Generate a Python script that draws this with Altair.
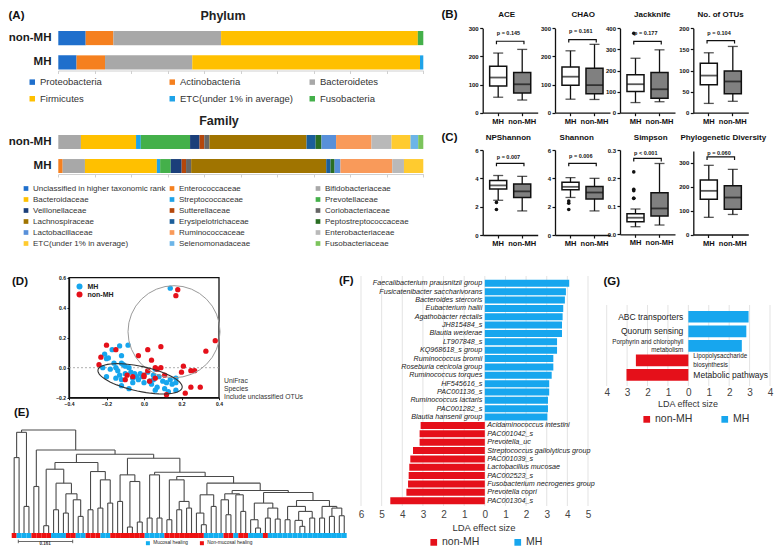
import altair as alt
import pandas as pd
import numpy as np

W, H = 766, 538
FONT = "Liberation Sans"
DUMMY = pd.DataFrame({"a": [0]})
BLUE = "#17A6EE"
RED = "#E5101A"


def X(v):
    return v - 8


def Y(v):
    return v - 8


def txt(s, x, y, size=8.0, weight="normal", align="center", color="#222222", style="normal", baseline="middle"):
    return alt.Chart(DUMMY).mark_text(
        text=s, fontSize=size, fontWeight=weight, align=align, baseline=baseline,
        color=color, fontStyle=style, font=FONT
    ).encode(x=alt.value(X(x)), y=alt.value(Y(y)))


# ------------------------------------------------------------------ (A) data
groups_A = ["non-MH", "MH"]
phyla = ["Proteobacteria", "Actinobacteria", "Bacteroidetes", "Firmicutes",
         "ETC(under 1% in average)", "Fusobacteria"]
phylum_colors = ["#1F6FCC", "#F5801F", "#A8A8A8", "#FFC000", "#1FA3E8", "#44B04A"]
phylum_non_mh = [7.5, 7.6, 29.5, 53.9, 0.0, 1.5]
phylum_mh = [5.0, 7.8, 23.9, 62.4, 0.9, 0.0]

families = ["Unclassified in higher taxonomic rank", "Enterococcaceae", "Bifidobacteriaceae",
            "Bacteroidaceae", "Streptococcaceae", "Prevotellaceae",
            "Veillonellaceae", "Sutterellaceae", "Coriobacteriaceae",
            "Lachnospiraceae", "Erysipelotrichaceae", "Peptostreptococcaceae",
            "Lactobacillaceae", "Ruminococcaceae", "Enterobacteriaceae",
            "ETC(under 1% in average)", "Selenomonadaceae", "Fusobacteriaceae"]
family_colors = ["#1F6FCC", "#F5801F", "#A8A8A8", "#FFC000", "#1FA3E8", "#44B04A",
                 "#1B3F7A", "#B5470B", "#666666", "#A07400", "#1B5E9A", "#2A6E23",
                 "#5890DA", "#F99A5A", "#B9B9B9", "#FFCB2F", "#6CB5E8", "#7CC45C"]
family_non_mh = [0.0, 0.0, 6.2, 15.1, 1.3, 13.5, 2.6, 1.3, 1.4, 26.6, 2.5, 1.6, 4.0, 9.7, 5.5, 5.2, 2.1, 1.4]
family_mh = [0.0, 1.2, 6.1, 19.7, 0.9, 2.9, 3.0, 1.2, 1.4, 37.0, 1.2, 1.1, 1.6, 14.2, 3.2, 5.3, 0.0, 0.0]

# ------------------------------------------------------------------ (B)(C) data
box_names = ["ACE", "CHAO", "Jackknife", "No. of OTUs",
             "NPShannon", "Shannon", "Simpson", "Phylogenetic Diversity"]
box_min_mh = [55, 48, 48, 22, 2.45, 2.65, 0.027, 72]
box_q1_mh = [95, 98, 100, 66, 3.25, 3.2, 0.045, 148]
box_med_mh = [125, 128, 135, 88, 3.5, 3.4, 0.059, 183]
box_q3_mh = [165, 162, 180, 117, 3.85, 3.72, 0.073, 228]
box_max_mh = [212, 220, 258, 142, 4.2, 4.05, 0.09, 290]
box_min_non = [45, 47, 52, 27, 1.7, 1.7, 0.033, 84]
box_q1_non = [70, 67, 68, 45, 2.65, 2.55, 0.065, 106]
box_med_non = [101, 98, 111, 74, 3.08, 3.0, 0.092, 155]
box_q3_non = [143, 158, 190, 99, 3.6, 3.42, 0.148, 204]
box_max_non = [225, 243, 298, 157, 4.14, 4.0, 0.252, 273]
p_labels = ["p = 0.145", "p = 0.161", "p = 0.177", "p = 0.104",
            "p = 0.007", "p = 0.006", "p < 0.001", "p = 0.060"]
bracket_at = [254, 260, 338, 171, 5.06, 5.06, 0.27, 325]
ptext_at = [283, 290, 377, 189, 5.5, 5.55, 0.29, 343]
outlier_metric = ["Jackknife", "NPShannon", "NPShannon", "Shannon", "Shannon", "Shannon",
                  "Simpson", "Simpson", "Simpson", "Simpson", "Simpson"]
outlier_value = [376, 2.3, 1.8, 2.4, 2.25, 1.8, 0.222, 0.16, 0.155, 0.128, 0.128]
outlier_side = [0, 0, 0, -1, 1, 0, 0, -1, 1, -1, 1]
box_domain_max = [300, 300, 400, 200, 6, 6, 0.3, 350]
box_ticks = [[0, 100, 200, 300], [0, 100, 200, 300], [0, 100, 200, 300, 400], [0, 50, 100, 150, 200],
             [0, 2, 4, 6], [0, 2, 4, 6], [0, 0.1, 0.2, 0.3], [0, 100, 200, 300]]
box_formats = ["d", "d", "d", "d", "d", "d", ".1f", "d"]

# ------------------------------------------------------------------ (D) data
mh_x = [0.14, -0.085, -0.13, -0.17, -0.21, -0.2, -0.19, -0.12, -0.16, -0.12, -0.11, -0.10, -0.22,
        -0.18, -0.15, -0.14, -0.2, -0.15, -0.13, -0.12, -0.1, -0.08, -0.07, -0.05, -0.06, -0.04,
        -0.03, -0.02, -0.01, 0.0, -0.06, -0.12, -0.08, 0.02, 0.03, 0.05, 0.04, 0.06, 0.08, 0.1,
        0.12, 0.11, 0.14, 0.15, 0.17, 0.17, 0.17, 0.13, 0.07, 0.05, 0.06]
mh_y = [0.53, 0.15, 0.145, 0.12, 0.09, 0.06, 0.065, 0.08, 0.03, 0.03, 0.02, 0.01, 0.0, -0.01, 0.0,
        -0.02, -0.06, -0.07, -0.05, -0.08, -0.04, 0.0, -0.03, -0.04, -0.07, -0.06, -0.08, -0.04,
        -0.06, -0.1, -0.1, -0.12, -0.14, -0.03, -0.09, -0.08, -0.11, -0.15, -0.06, -0.09, -0.1,
        -0.14, -0.08, -0.11, -0.07, -0.1, -0.15, -0.16, -0.13, -0.05, -0.01]
non_x = [0.18, 0.17, 0.38, 0.33, -0.23, -0.2, -0.15, -0.24, 0.02, 0.09, -0.03, 0.04, 0.06, 0.07,
         0.09, 0.21, 0.2, 0.25, 0.27, 0.11, -0.09, -0.06, -0.1, 0.0, 0.03, 0.06, 0.25, 0.3, 0.22,
         0.12, 0.02, 0.0]
non_y = [0.52, 0.48, 0.18, 0.11, 0.07, 0.15, 0.12, 0.02, 0.12, 0.14, 0.08, 0.05, 0.0, -0.01, 0.0,
         0.01, -0.03, -0.02, -0.02, -0.05, -0.05, -0.06, -0.08, -0.06, -0.09, -0.07, -0.13, -0.13,
         -0.17, -0.18, -0.02, -0.05]

# ------------------------------------------------------------------ (E) data (merge heights)
L = "L"
t_a = (303, (227, L, L), (80, L, L))
t_b1 = (140, L, L)
t_z1 = (192, (22, L, L), (150, (70, L, L), (118, (60, L, L), (100, L, (50, L, L)))))
t_z2 = (185, (70, L, L), (160, (75, L, L), (90, L, L)))
t_z = (212, t_z1, t_z2)
t_w1 = (175, (95, L, L), (155, (18, L, L), (33, L, L)))
t_w2a = (175, (45, L, L), (45, L, L))
t_w2b1 = (160, (40, L, L), (95, (70, L, L), (75, L, L)))
t_w2b2a = (115, (60, L, (25, L, L)), (80, L, L))
t_w3 = (118, (100, L, (55, L, L)), (115, L, (65, L, L)))
t_w4a = (90, (40, L, (15, L, L)), (75, (45, L, L), (42, L, L)))
t_w4b1 = (80, (40, L, L), (65, (38, L, (20, L, L)), (45, L, L)))
t_w4b2 = (80, (45, L, L), (75, (50, L, L), (52, L, L)))
t_w4 = (122, t_w4a, (98, t_w4b1, t_w4b2))
t_w2b2 = (150, t_w2b2a, (128, t_w3, t_w4))
t_w2 = (183, t_w2a, (170, t_w2b1, t_w2b2))
t_w = (225, t_w1, t_w2)
tree = (310, t_a, (250, t_b1, (237, t_z, t_w)))
strip_runs = [("Non-mucosal healing", 1), ("Mucosal healing", 3), ("Non-mucosal healing", 4),
              ("Mucosal healing", 3), ("Non-mucosal healing", 2), ("Mucosal healing", 2),
              ("Non-mucosal healing", 3), ("Mucosal healing", 2), ("Non-mucosal healing", 7),
              ("Mucosal healing", 4), ("Non-mucosal healing", 8), ("Mucosal healing", 4),
              ("Non-mucosal healing", 2), ("Mucosal healing", 1), ("Non-mucosal healing", 2),
              ("Mucosal healing", 3), ("Non-mucosal healing", 1), ("Mucosal healing", 16)]

# ------------------------------------------------------------------ (F) data
f_taxa = ["Faecalibacterium prausnitzii group", "Fusicatenibacter saccharivorans",
          "Bacteroides stercoris", "Eubacterium hallii", "Agathobacter rectalis", "JH815484_s",
          "Blautia wexlerae", "LT907848_s", "KQ968618_s group", "Ruminococcus bromii",
          "Roseburia cecicola group", "Ruminococcus torques", "HF545616_s", "PAC001136_s",
          "Ruminococcus lactaris", "PAC001282_s", "Blautia hansenii group",
          "Acidaminococcus intestini", "PAC001042_s", "Prevotella_uc",
          "Streptococcus gallolyticus group", "PAC001039_s", "Lactobacillus mucosae",
          "PAC002523_s", "Fusobacterium necrogenes group", "Prevotella copri", "PAC001304_s"]
f_lda = [4.09, 3.93, 3.88, 3.80, 3.77, 3.74, 3.74, 3.50, 3.50, 3.32, 3.32, 3.24, 3.12, 3.12,
         3.06, 3.06, 3.03, -3.11, -3.16, -3.16, -3.48, -3.61, -3.66, -3.69, -3.72, -3.80, -4.58]

# ------------------------------------------------------------------ (G) data
g_path = ["ABC transporters", "Quorum sensing", "Porphyrin and chlorophyll\nmetabolism",
          "Lipopolysaccharide\nbiosynthesis", "Metabolic pathways"]
g_lda = [2.95, 2.84, 2.62, -2.57, -3.03]

layers = []

# ================================================================== (A)
def stacked_panel(cats, colors, v_non, v_mh, y_top, y_bot, legend_kw):
    rows = []
    for g, vals in (("non-MH", v_non), ("MH", v_mh)):
        for k, (c, v) in enumerate(zip(cats, vals)):
            rows.append({"group": g, "taxon": c, "value": v, "idx": k})
    df = pd.DataFrame(rows)
    return alt.Chart(df).mark_bar().encode(
        y=alt.Y("group:N",
                scale=alt.Scale(domain=groups_A, range=[Y(y_top), Y(y_bot)], paddingInner=0.42, paddingOuter=0),
                axis=alt.Axis(orient="left", offset=-X(57), title=None, domain=False, ticks=False,
                              labelFontSize=11.5, labelFontWeight="bold", labelPadding=6,
                              labelColor="#1a1a1a", labelFont=FONT)),
        x=alt.X("value:Q", stack="zero",
                scale=alt.Scale(domain=[0, 100], range=[X(58.3), X(423.3)], nice=False, zero=True),
                axis=alt.Axis(orient="bottom", offset=Y(y_bot + 1) - H, values=list(range(0, 101, 10)),
                              labels=False, title=None, grid=False, domainColor="#d0d0d0",
                              tickColor="#d0d0d0", tickSize=3)),
        color=alt.Color("taxon:N", scale=alt.Scale(domain=cats, range=colors), legend=alt.Legend(**legend_kw)),
        order=alt.Order("idx:Q", sort="ascending"),
    )


layers.append(stacked_panel(
    phyla, phylum_colors, phylum_non_mh, phylum_mh, 31, 69.5,
    dict(orient="none", legendX=X(27.5), legendY=Y(77), columns=3, direction="horizontal", gridAlign="all",
         symbolType="square", symbolSize=30, symbolStrokeWidth=0, labelFontSize=9.5,
         labelFont=FONT, labelColor="#333333", columnPadding=14, rowPadding=6, title=None,
         labelOffset=3, labelLimit=400)))
layers.append(stacked_panel(
    families, family_colors, family_non_mh, family_mh, 135, 173,
    dict(orient="none", legendX=X(22), legendY=Y(184.5), columns=3, direction="horizontal", gridAlign="all",
         symbolType="square", symbolSize=22, symbolStrokeWidth=0, labelFontSize=8,
         labelFont=FONT, labelColor="#333333", columnPadding=2, rowPadding=3, title=None,
         labelOffset=3, labelLimit=400)))
layers.append(txt("Phylum", 223, 16, 12.5, "bold"))
layers.append(txt("Family", 219, 121, 12.5, "bold"))

# ================================================================== (B)(C)
box_cols = [482.7, 555.0, 620.0, 693.3, 482.7, 555.0, 620.0, 693.3]
box_top_px = [28.3, 28.3, 28.3, 28.3, 150, 150, 150, 151]
box_bot_px = [112.7, 112.7, 112.7, 112.7, 235, 235, 234.3, 234.5]
box_title_x = [506.7, 583.3, 652.3, 720.7, 508.3, 576.7, 650.7, 723.3]


def box_panel(i):
    x0, yb, yt, top = box_cols[i], box_bot_px[i], box_top_px[i], box_domain_max[i]
    xs = alt.Scale(domain=["MH", "non-MH"], range=[X(x0), X(x0 + 55)], paddingInner=0.29, paddingOuter=0.29)
    ys = alt.Scale(domain=[0, top], range=[Y(yb), Y(yt)], nice=False, zero=False)
    df = pd.DataFrame({
        "group": ["MH", "non-MH"],
        "lo": [box_min_mh[i], box_min_non[i]],
        "q1": [box_q1_mh[i], box_q1_non[i]],
        "med": [box_med_mh[i], box_med_non[i]],
        "q3": [box_q3_mh[i], box_q3_non[i]],
        "hi": [box_max_mh[i], box_max_non[i]],
        "fill": ["white", "#808080"],
    })
    base = alt.Chart(df)
    xax = alt.Axis(orient="bottom", offset=Y(yb) - H, title=None, labelAngle=0, labelFontSize=7.5,
                   labelFontWeight="bold", labelColor="#111111", domainColor="#111111", domainWidth=1.3,
                   tickColor="#111111", tickWidth=1.2, tickSize=3, labelPadding=1.5, labelFont=FONT)
    yax = alt.Axis(orient="left", offset=-X(x0), title=None, values=box_ticks[i], format=box_formats[i],
                   labelFontSize=6, labelFontWeight="bold", labelColor="#111111", domainColor="#111111",
                   domainWidth=1.3, tickColor="#111111", tickWidth=1.2, tickSize=3, labelPadding=1.5,
                   grid=False, labelFlush=False, labelOverlap=False, labelFont=FONT)

    def xe(ax=None):
        return alt.X("group:N", scale=xs, axis=ax)

    def ye(f, ax=None):
        return alt.Y(f, scale=ys, axis=ax)

    parts = [
        base.mark_rule(color="#111111", strokeWidth=1.3).encode(x=xe(xax), y=ye("lo:Q", yax), y2="hi:Q"),
        base.mark_bar(stroke="#111111", strokeWidth=1.5).encode(
            x=xe(), y=ye("q1:Q"), y2="q3:Q", fill=alt.Fill("fill:N", scale=None)),
        base.mark_tick(color="#111111", thickness=1.8, size=17).encode(x=xe(), y=ye("med:Q")),
        base.mark_tick(color="#111111", thickness=1.3, size=10).encode(x=xe(), y=ye("lo:Q")),
        base.mark_tick(color="#111111", thickness=1.3, size=10).encode(x=xe(), y=ye("hi:Q")),
    ]
    d = 3.0 * top / (yb - yt)
    b = bracket_at[i]
    br = pd.DataFrame({"group": ["MH", "MH", "non-MH", "non-MH"], "v": [b - d, b, b, b - d], "k": [0, 1, 2, 3]})
    parts.append(alt.Chart(br).mark_line(color="#111111", strokeWidth=1.2).encode(
        x=xe(), y=ye("v:Q"), order="k:Q"))
    parts.append(alt.Chart(pd.DataFrame({"group": ["MH"], "v": [ptext_at[i]]})).mark_text(
        text=p_labels[i], dx=12, fontSize=5.5, fontWeight="bold", color="#111111", font=FONT).encode(
        x=xe(), y=ye("v:Q")))
    out = [(v, s) for m, v, s in zip(outlier_metric, outlier_value, outlier_side) if m == box_names[i]]
    for side in sorted(set(s for _, s in out)):
        vals = [v for v, s in out if s == side]
        odf = pd.DataFrame({"group": ["MH"] * len(vals), "v": vals})
        parts.append(alt.Chart(odf).mark_circle(size=13, color="#111111", opacity=1, dx=side * 3.5).encode(
            x=xe(), y=ye("v:Q")))
    return parts


for i in range(8):
    layers.extend(box_panel(i))
    layers.append(txt(box_names[i], box_title_x[i], 15 if i < 4 else 138, 8, "bold", color="#111111"))

# ================================================================== (D)
df_pts = pd.DataFrame({"x": mh_x + non_x, "y": mh_y + non_y,
                       "group": ["MH"] * len(mh_x) + ["non-MH"] * len(non_x)})
xs_d = alt.Scale(domain=[-0.4, 0.4], range=[X(69), X(219)], nice=False, zero=False)
ys_d = alt.Scale(domain=[-0.2, 0.6], range=[Y(397.7), Y(277.7)], nice=False, zero=False)
ax_common = dict(title=None, labelFontSize=5, labelFontWeight="bold", labelColor="#111111",
                 domainColor="#111111", domainWidth=1.3, tickColor="#111111", tickSize=2,
                 labelPadding=1.5, grid=False, labelFlush=False, labelOverlap=False, format=".1f",
                 labelFont=FONT)
frame = alt.Chart(pd.DataFrame({"x": [-0.4], "x2": [0.4], "y": [-0.2], "y2": [0.6]})).mark_rect(
    fillOpacity=0, stroke="#111111", strokeWidth=1.3).encode(
    x=alt.X("x:Q", scale=xs_d, axis=alt.Axis(orient="bottom", offset=Y(397.7) - H,
                                              values=[-0.4, -0.2, 0.0, 0.2, 0.4], **ax_common)),
    x2="x2:Q",
    y=alt.Y("y:Q", scale=ys_d, axis=alt.Axis(orient="left", offset=-X(69),
                                             values=[-0.2, 0.0, 0.2, 0.4, 0.6], **ax_common)),
    y2="y2:Q")
zero_line = alt.Chart(pd.DataFrame({"x": [-0.4], "x2": [0.4], "y": [0.0]})).mark_rule(
    color="#999999", strokeDash=[2, 2], strokeWidth=0.8).encode(
    x=alt.X("x:Q", scale=xs_d, axis=None), x2="x2:Q", y=alt.Y("y:Q", scale=ys_d, axis=None))
pts = alt.Chart(df_pts).mark_circle(size=28, opacity=1).encode(
    x=alt.X("x:Q", scale=xs_d, axis=None), y=alt.Y("y:Q", scale=ys_d, axis=None),
    color=alt.Color("group:N", scale=alt.Scale(domain=["MH", "non-MH"], range=[BLUE, RED]),
                    legend=alt.Legend(orient="none", legendX=X(75.5), legendY=Y(282.5), title=None,
                                      symbolType="circle", symbolSize=36, labelFontSize=7,
                                      labelFontWeight="bold", labelColor="#222222", rowPadding=1,
                                      labelOffset=4, labelFont=FONT)))
circ = alt.Chart(pd.DataFrame({"x": [0.16], "y": [0.24]})).mark_point(
    shape="circle", size=8464, filled=False, stroke="#9a9a9a", strokeWidth=1, opacity=1).encode(
    x=alt.X("x:Q", scale=xs_d, axis=None), y=alt.Y("y:Q", scale=ys_d, axis=None))
theta = np.linspace(0, 2 * np.pi, 61)[:-1]
ell_path = "M" + " L".join(f"{np.cos(a):.3f},{0.29 * np.sin(a):.3f}" for a in theta) + " Z"
ell = alt.Chart(pd.DataFrame({"x": [-0.021], "y": [-0.074]})).mark_point(
    shape=ell_path, size=7396, filled=False, stroke="#333333", strokeWidth=1.1, opacity=1, angle=12).encode(
    x=alt.X("x:Q", scale=xs_d, axis=None), y=alt.Y("y:Q", scale=ys_d, axis=None))
layers.extend([frame, zero_line, pts, circ, ell])
layers.append(txt("UniFrac", 224, 381, 6.8, align="left", color="#333333"))
layers.append(txt("Species", 224, 389, 6.8, align="left", color="#333333"))
layers.append(txt("Include unclassified OTUs", 224, 397, 6.8, align="left", color="#333333"))

# ================================================================== (E)
segs = []
counter = [0]


def build(node):
    if node == L:
        i = counter[0]
        counter[0] += 1
        return float(i), 0.0
    h, a, b = node
    xa, ha = build(a)
    xb, hb = build(b)
    segs.append({"x": xa, "x2": xb, "y": h, "y2": h})
    segs.append({"x": xa, "x2": xa, "y": ha, "y2": h})
    segs.append({"x": xb, "x2": xb, "y": hb, "y2": h})
    return (xa + xb) / 2.0, float(h)


build(tree)
n_leaves = counter[0]
leaf_groups = []
for g, n in strip_runs:
    leaf_groups += [g] * n
leaf_groups = (leaf_groups + ["Mucosal healing"] * n_leaves)[:n_leaves]
df_seg = pd.DataFrame(segs)
df_strip = pd.DataFrame({"xa": np.arange(n_leaves) - 0.5, "xb": np.arange(n_leaves) + 0.5,
                         "ya": -15.0, "yb": 0.0, "grp": leaf_groups})
xs_e = alt.Scale(domain=[-0.5, n_leaves - 0.5], range=[X(11.7), X(346.7)], nice=False, zero=False)
ys_e = alt.Scale(domain=[-40, 310], range=[Y(546.3), Y(430)], nice=False, zero=False)
dendro = alt.Chart(df_seg).mark_rule(color="#4a4a4a", strokeWidth=1.1).encode(
    x=alt.X("x:Q", scale=xs_e, axis=None), x2="x2:Q", y=alt.Y("y:Q", scale=ys_e, axis=None), y2="y2:Q")
strip = alt.Chart(df_strip).mark_rect().encode(
    x=alt.X("xa:Q", scale=xs_e, axis=None), x2="xb:Q", y=alt.Y("ya:Q", scale=ys_e, axis=None), y2="yb:Q",
    color=alt.Color("grp:N", scale=alt.Scale(domain=["Mucosal healing", "Non-mucosal healing"],
                                             range=["#12AEF0", "#EE1111"]),
                    legend=alt.Legend(orient="none", legendX=X(145.5), legendY=Y(540.5), direction="horizontal",
                                      title=None, symbolType="square", symbolSize=16, labelFontSize=4.8,
                                      columnPadding=11, labelOffset=3, labelColor="#222222", labelFont=FONT,
                                      symbolStrokeWidth=0)))
layers.extend([dendro, strip])
layers.append(alt.Chart(DUMMY).mark_rule(color="#444444", strokeWidth=0.8).encode(
    x=alt.value(X(18.3)), x2=alt.value(X(72.7)), y=alt.value(Y(541.5))))
layers.append(alt.Chart(DUMMY).mark_rule(color="#444444", strokeWidth=0.8).encode(
    x=alt.value(X(18.3)), y=alt.value(Y(539.7)), y2=alt.value(Y(543.2))))
layers.append(alt.Chart(DUMMY).mark_rule(color="#444444", strokeWidth=0.8).encode(
    x=alt.value(X(72.7)), y=alt.value(Y(539.7)), y2=alt.value(Y(543.2))))
layers.append(txt("0.161", 45, 546, 4.5, "bold", color="#333333", baseline="bottom"))

# ================================================================== (F)
f_df = pd.DataFrame({"taxon": f_taxa, "lda": f_lda})
f_df["grp"] = np.where(f_df["lda"] > 0, "MH", "non-MH")
f_df["zero"] = 0.0
xs_f = alt.Scale(domain=[-6, 5], range=[X(361), X(588)], nice=False, zero=False)
ys_f = alt.Scale(domain=f_taxa, range=[Y(279), Y(505)], paddingInner=0.16, paddingOuter=0.095)
grid_f = alt.Chart(pd.DataFrame({"g": list(range(-6, 6))})).mark_rule(color="#dcdcdc", strokeWidth=0.8).encode(
    x=alt.X("g:Q", scale=xs_f, axis=alt.Axis(orient="bottom", offset=Y(507) - H, values=list(range(-6, 6)),
                                             labelExpr="abs(datum.value)", domain=False, ticks=False,
                                             labelFontSize=10, labelColor="#444444", labelPadding=2,
                                             title=None, grid=False, labelFlush=False, labelOverlap=False,
                                             labelFont=FONT)),
    y=alt.value(Y(276)), y2=alt.value(Y(506)))
bars_f = alt.Chart(f_df).mark_bar().encode(
    y=alt.Y("taxon:N", scale=ys_f, axis=None, sort=None),
    x=alt.X("lda:Q", scale=xs_f, axis=None), x2="zero:Q",
    color=alt.Color("grp:N", scale=alt.Scale(domain=["non-MH", "MH"], range=[RED, BLUE]),
                    legend=alt.Legend(orient="none", legendX=X(428.5), legendY=Y(537), direction="horizontal",
                                      title=None, symbolType="square", symbolSize=45, labelFontSize=10.5,
                                      columnPadding=33, labelOffset=3, labelColor="#333333", labelFont=FONT,
                                      symbolStrokeWidth=0)))
lab_mh = alt.Chart(f_df).transform_filter(alt.datum.lda > 0).mark_text(
    align="right", dx=-2.5, fontSize=7.2, fontStyle="italic", color="#222222", font=FONT).encode(
    y=alt.Y("taxon:N", scale=ys_f, axis=None, sort=None), x=alt.X("zero:Q", scale=xs_f, axis=None), text="taxon:N")
lab_non = alt.Chart(f_df).transform_filter(alt.datum.lda < 0).mark_text(
    align="left", dx=2.5, fontSize=7.2, fontStyle="italic", color="#222222", font=FONT).encode(
    y=alt.Y("taxon:N", scale=ys_f, axis=None, sort=None), x=alt.X("zero:Q", scale=xs_f, axis=None), text="taxon:N")
layers.extend([grid_f, bars_f, lab_mh, lab_non])
layers.append(txt("LDA effect size", 484, 528, 9.5, color="#333333"))

# ================================================================== (G)
g_df = pd.DataFrame({"path": g_path, "lda": g_lda})
g_df["grp"] = np.where(g_df["lda"] > 0, "MH", "non-MH")
g_df["zero"] = 0.0
g_df["lines"] = g_df["path"].str.count("\n") + 1
xs_g = alt.Scale(domain=[-4, 4], range=[X(606.7), X(770)], nice=False, zero=False)
ys_g = alt.Scale(domain=g_path, range=[Y(309.5), Y(382.2)], paddingInner=0.2, paddingOuter=0.1)
grid_g = alt.Chart(pd.DataFrame({"g": list(range(-4, 5))})).mark_rule(color="#dcdcdc", strokeWidth=0.8).encode(
    x=alt.X("g:Q", scale=xs_g, axis=alt.Axis(orient="bottom", offset=Y(386) - H, values=list(range(-4, 5)),
                                             labelExpr="abs(datum.value)", domain=False, ticks=False,
                                             labelFontSize=10, labelColor="#444444", labelPadding=1,
                                             title=None, grid=False, labelFlush=False, labelOverlap=False,
                                             labelFont=FONT)),
    y=alt.value(Y(305)), y2=alt.value(Y(386)))
bars_g = alt.Chart(g_df).mark_bar().encode(
    y=alt.Y("path:N", scale=ys_g, axis=None, sort=None),
    x=alt.X("lda:Q", scale=xs_g, axis=None), x2="zero:Q",
    color=alt.Color("grp:N", scale=alt.Scale(domain=["non-MH", "MH"], range=[RED, BLUE]),
                    legend=alt.Legend(orient="none", legendX=X(641.5), legendY=Y(414), direction="horizontal",
                                      title=None, symbolType="square", symbolSize=45, labelFontSize=10.5,
                                      columnPadding=27, labelOffset=3, labelColor="#333333", labelFont=FONT,
                                      symbolStrokeWidth=0)))
layers.extend([grid_g, bars_g])
for sign, align, dx in ((1, "right", -5), (-1, "left", 5)):
    for nl, fs in ((1, 8.5), (2, 6.3)):
        lh = fs * 1.35
        layers.append(alt.Chart(g_df).transform_filter(
            (alt.datum.lda * sign > 0) & (alt.datum.lines == nl)).mark_text(
            align=align, dx=dx, dy=-(nl - 1) * lh / 2.0, fontSize=fs, color="#222222", font=FONT,
            lineBreak="\n", lineHeight=lh).encode(
            y=alt.Y("path:N", scale=ys_g, axis=None, sort=None),
            x=alt.X("zero:Q", scale=xs_g, axis=None), text="path:N"))
layers.append(txt("LDA effect size", 688, 404, 9, color="#333333"))

# ================================================================== panel letters
for s, x, y in (("(A)", 8.5, 16), ("(B)", 441.5, 15), ("(C)", 441.5, 138), ("(D)", 12, 282),
                ("(E)", 14, 413), ("(F)", 339, 281), ("(G)", 603.5, 282)):
    layers.append(txt(s, x, y, 11.5, "bold", align="left", color="#111111"))

chart = alt.layer(*layers).resolve_scale(
    x="independent", y="independent", color="independent"
).properties(
    width=W, height=H, autosize=alt.AutoSizeParams(type="none"), padding=0
).configure(font=FONT).configure_view(stroke=None)

chart.save("out.html", embed_options={"renderer": "svg", "actions": False})
